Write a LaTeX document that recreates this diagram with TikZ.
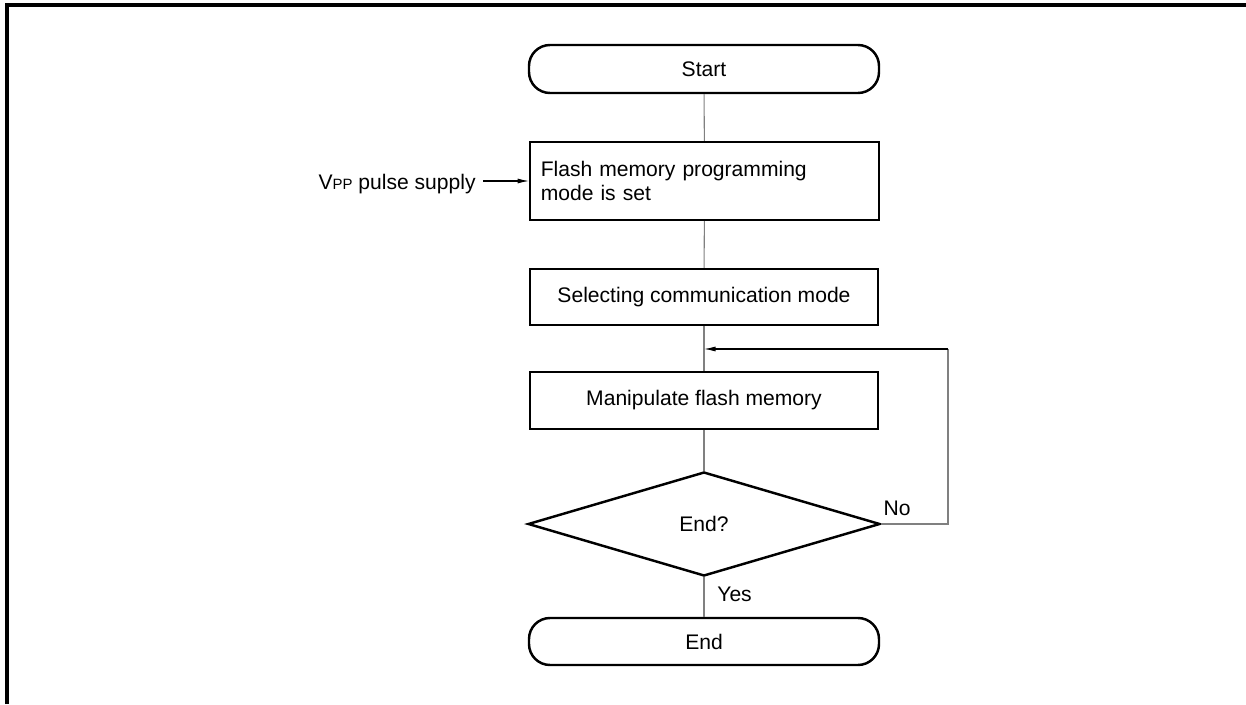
\documentclass[tikz,border=0pt]{standalone}
\usepackage{fontspec}
\setmainfont{Liberation Sans}
\usepackage{xcolor}
\definecolor{flowgray}{RGB}{128, 128, 128}
\usetikzlibrary{arrows.meta, shapes.geometric, positioning}

\tikzset{
    terminal/.style={draw, line width=1.4pt, rounded corners=0.42cm,
        minimum width=7cm, minimum height=0.96cm, inner sep=0pt},
    procbox/.style={draw, line width=1.4pt, minimum width=6.97cm, inner sep=0pt},
    decision/.style={draw, diamond, line width=1.4pt, minimum width=7.04cm,
        minimum height=2.08cm, inner sep=0pt},
    flowline/.style={draw=flowgray, line width=0.6pt},
    sigarrow/.style={draw=black, line width=0.6pt, -{Latex[length=2.3mm, width=1mm]}},
}

\begin{document}
\begin{tikzpicture}[font=\fontsize{12}{13.8}\selectfont]
\useasboundingbox (0, 0) rectangle (24.92, 14.08);

% === Marco ===
\draw[line width=1.8pt] (0.14, 0) -- (0.14, 13.98) -- (24.92, 13.98);

% === Nodos ===
\node[terminal] (start) at (14.08, 12.70) {Start};
\node[procbox, minimum height=1.56cm, text width=6.55cm, align=left] (setmode) at (14.09, 10.46)
    {Flash memory programming\\mode is set};
\node[procbox, minimum height=1.12cm] (commode) at (14.08, 8.14) {Selecting communication mode};
\node[procbox, minimum height=1.14cm] (manip) at (14.08, 6.07) {Manipulate flash memory};
\node[decision] (isend) at (14.08, 3.60) {End?};
\node[terminal, minimum height=0.94cm] (finish) at (14.08, 1.25) {End};

% === Señal externa ===
\node[anchor=east, inner sep=0pt] (vpp) at (9.52, 10.40)
    {V{\fontsize{8.5}{8.5}\selectfont PP} pulse supply};

% === Conexiones ===
\coordinate (joint) at (14.08, 7.10);
\coordinate (loopcorner) at (18.96, 3.60);
\coordinate (looptop) at (18.96, 7.10);

\draw[flowline] (start) -- (setmode);
\draw[flowline] (setmode) -- (commode);
\draw[flowline] (commode) -- (manip);
\draw[flowline] (manip) -- (isend);
\draw[flowline] (isend) -- (finish);
\draw[sigarrow] ([xshift=0.14cm]vpp.east |- setmode.west) -- (setmode.west);

% Lazo de repetición
\draw[flowline] (isend.east) -- (loopcorner) -- (looptop);
\draw[sigarrow] (looptop) -- (joint);

% Etiquetas
\node[anchor=south west, inner sep=0pt] (nolabel) at ([xshift=0.04cm, yshift=0.16cm]isend.east) {No};
\node[anchor=north west, inner sep=0pt] (yeslabel) at ([xshift=0.26cm, yshift=-0.18cm]isend.south) {Yes};

\end{tikzpicture}
\end{document}
